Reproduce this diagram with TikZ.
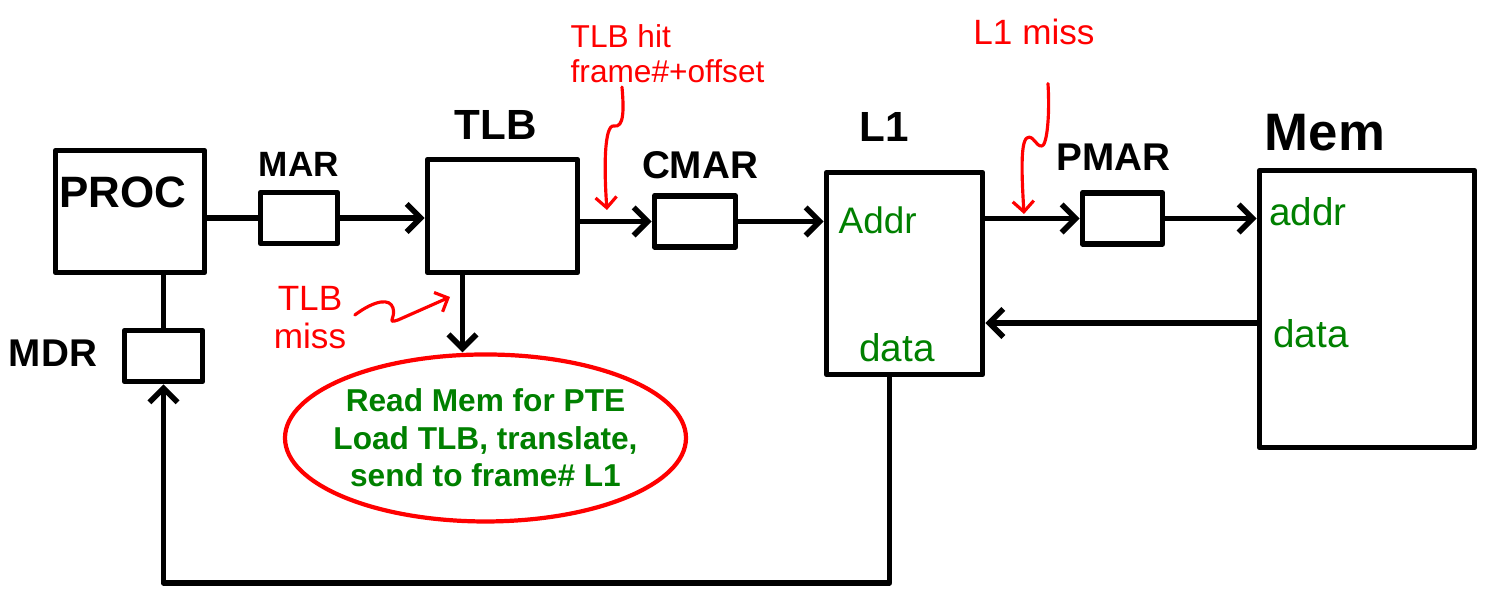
\documentclass[tikz,border=0pt]{standalone}
\usepackage{fontspec}
\setmainfont{Liberation Sans}
\usetikzlibrary{arrows.meta,positioning,shapes.geometric,calc}
\definecolor{hitred}{RGB}{255,0,0}
\definecolor{fieldgreen}{RGB}{0,128,0}

\begin{document}
\begin{tikzpicture}[
  >={Straight Barb[length=4pt,width=8pt]},
  line join=round, line cap=round,
  blk/.style={draw, line width=1.6pt, inner sep=0pt},
  reg/.style={blk, minimum width=0.79cm, minimum height=0.51cm},
  ttl/.style={font=\bfseries\fontsize{#1}{#1}\selectfont, inner sep=0pt},
  fld/.style={text=fieldgreen, font=\fontsize{#1}{#1}\selectfont, inner sep=0pt},
  note/.style={text=hitred, font=\fontsize{#1}{#1.8}\selectfont, inner sep=0pt},
  wire/.style={line width=1.6pt},
  arr/.style={->, wire},
  hint/.style={->, draw=hitred, line width=0.9pt,
               >={Straight Barb[length=3pt,width=6pt]}},
]
  \useasboundingbox (0,0) rectangle (14.88,5.90);

  % boxes
  \node[blk, minimum width=1.49cm, minimum height=1.22cm] (proc) at (1.30,3.785) {};
  \node[ttl=12.5] (proctxt) at (1.23,3.98) {PROC};
  \node[reg, minimum width=0.77cm] (mar) at (2.99,3.72) {};
  \node[blk, minimum width=1.50cm, minimum height=1.13cm] (tlb) at (5.025,3.74) {};
  \node[reg, minimum width=0.81cm] (cmar) at (6.95,3.685) {};
  \node[blk, minimum width=1.56cm, minimum height=2.02cm] (l1) at (9.045,3.165) {};
  \node[reg, minimum width=0.80cm] (pmar) at (11.225,3.715) {};
  \node[blk, minimum width=2.15cm, minimum height=2.77cm] (mem) at (13.67,2.81) {};
  \node[reg, minimum width=0.78cm] (mdr) at (1.635,2.34) {};
  \node[ellipse, draw=hitred, line width=1.2pt, minimum width=4.01cm, minimum height=1.67cm,
        inner sep=0pt] (task) at (4.855,1.52) {};
  \node[align=center, text=fieldgreen, inner sep=0pt,
        font=\bfseries\fontsize{9}{10.7}\selectfont] (tasktxt) at (task.center)
        {Read Mem for PTE\\Load TLB, translate,\\send to frame\# L1};

  % box names
  \node[ttl=10, above=0.12cm of mar] (martxt) {MAR};
  \node[ttl=12, above=0.16cm of tlb, xshift=-0.07cm] (tlbtxt) {TLB};
  \node[ttl=11, above=0.14cm of cmar, xshift=0.05cm] (cmartxt) {CMAR};
  \node[ttl=12, above=0.27cm of l1, xshift=-0.2cm] (l1txt) {L1};
  \node[ttl=11, above=0.19cm of pmar, xshift=-0.09cm] (pmartxt) {PMAR};
  \node[ttl=15, above=0.16cm of mem, xshift=-0.42cm] (memtxt) {Mem};
  \node[ttl=11, left=0.24cm of mdr, yshift=0.03cm] (mdrtxt) {MDR};

  % fields
  \node[fld=10.5, anchor=west] (l1addr) at (8.38,3.70) {Addr};
  \node[fld=11] (l1data) at (8.97,2.42) {data};
  \node[fld=11] (memaddr) at (13.08,3.78) {addr};
  \node[fld=11] (memdata) at (13.11,2.56) {data};

  % wires
  \draw[wire] (mar.west -| proc.east) -- (mar.west);
  \draw[arr] (mar.east) -- (mar.east -| tlb.west);
  \draw[arr] (cmar.west -| tlb.east) -- (cmar.west);
  \draw[arr] (cmar.east) -- (cmar.east -| l1.west);
  \draw[arr] (pmar.west -| l1.east) -- (pmar.west);
  \draw[arr] (pmar.east) -- (pmar.east -| mem.west);
  \coordinate (memout) at ($(mem.west)+(0,-0.14)$);
  \draw[arr] (memout) -- (memout -| l1.east);
  \draw[wire] (mdr.north) -- (mdr.north |- proc.south);
  \coordinate (tlbdown) at ($(tlb.south)+(-0.4,0)$);
  \draw[arr] (tlbdown) -- (tlbdown |- task.north);
  \coordinate (l1out) at ($(l1.south)+(-0.15,0)$);
  \coordinate (floor) at (0,0.07);
  \draw[arr] (l1out) |- (mdr.south |- floor) -- (mdr.south);

  % red notes
  \node[note=9, align=left, anchor=north west] (hitnote) at (5.70,5.66) {TLB hit\\frame\#+offset};
  \node[note=10] (l1miss) at (10.34,5.58) {L1 miss};
  \node[note=10, align=center] (tlbmiss) at (3.10,2.72) {TLB\\miss};
  \coordinate (hitpt) at (6.07,3.80);
  \coordinate (misspt) at (10.24,3.76);
  \coordinate (tlbpt) at (4.50,2.93);
  \draw[hint] ($(hitnote.south west)+(0.52,-0.04)$) .. controls (6.24,4.80) and (6.24,4.62) .. (6.14,4.64)
    .. controls (6.04,4.66) and (6.04,4.20) .. (hitpt);
  \draw[hint] ($(l1miss.south)+(0.14,-0.38)$) .. controls (10.50,4.75) and (10.47,4.45) .. (10.42,4.44)
    .. controls (10.36,4.43) and (10.33,4.56) .. (10.27,4.52)
    .. controls (10.20,4.48) and (10.22,4.10) .. (misspt);
  \draw[hint] ($(tlbmiss.east)+(0.08,0.03)$) .. controls (3.75,2.90) and (3.90,2.92) .. (3.93,2.82)
    .. controls (3.96,2.72) and (3.86,2.66) .. (3.98,2.70) -- (tlbpt);
\end{tikzpicture}
\end{document}
